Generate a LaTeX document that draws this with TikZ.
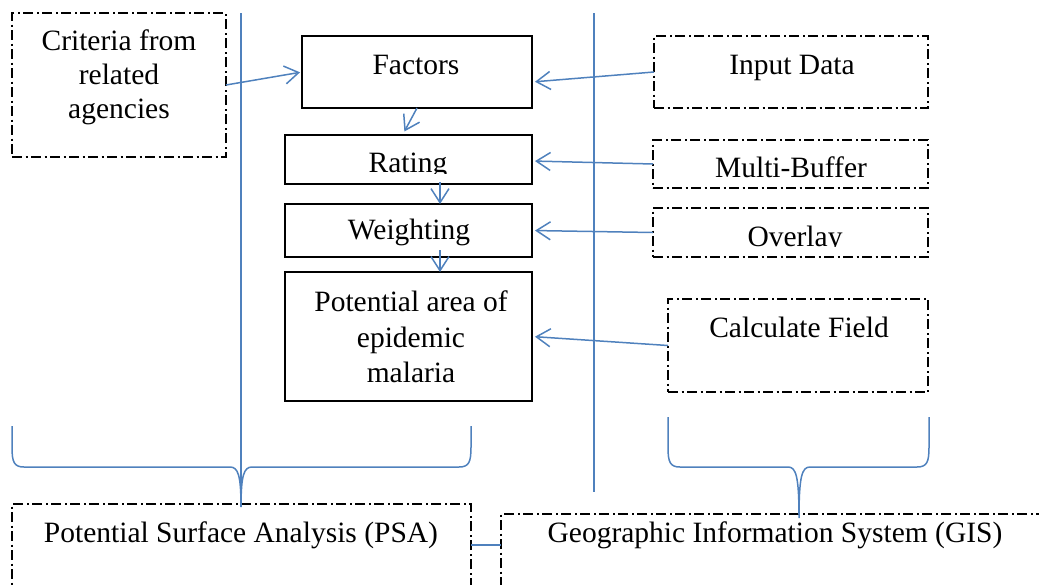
\documentclass[tikz,border=0pt]{standalone}
\usepackage{fontspec}
\setmainfont{Liberation Serif}
\usetikzlibrary{arrows.meta}
\definecolor{linkblue}{RGB}{79,129,189}
\tikzset{
    solidbox/.style={draw=black, line width=1.8pt, inner sep=0pt, outer sep=0pt},
    dashbox/.style={draw=black, line width=1.8pt, inner sep=0pt, outer sep=0pt,
        dash pattern=on 10pt off 3.5pt on 2pt off 3.5pt},
    link/.style={draw=linkblue, line width=1.5pt},
    flow/.style={link, -{Straight Barb[length=14pt,width=18pt]}},
    txt/.style={font=\fontsize{29.5}{34}\selectfont, align=center, inner sep=0pt},
}

\begin{document}
\begin{tikzpicture}[x=1pt, y=-1pt]
\useasboundingbox (0,0) rectangle (1039,584);
\clip (0,0) rectangle (1039,584);

% boxes
\node[dashbox, minimum width=214, minimum height=144] (crit) at (119,85) {};
\node[solidbox, minimum width=230, minimum height=72] (fac) at (417,72) {};
\node[solidbox, minimum width=247, minimum height=49] (rat) at (408.5,159.5) {};
\node[solidbox, minimum width=247, minimum height=53] (wgt) at (408.5,230.5) {};
\node[solidbox, minimum width=247, minimum height=129] (pot) at (408.5,336.5) {};
\node[dashbox, minimum width=274, minimum height=72] (inp) at (791,72) {};
\node[dashbox, minimum width=275, minimum height=48] (mb) at (790.5,164) {};
\node[dashbox, minimum width=275, minimum height=49] (ovl) at (790.5,232.5) {};
\node[dashbox, minimum width=260, minimum height=93] (calc) at (798,345.5) {};
\node[dashbox, minimum width=459, minimum height=100] (psa) at (241.5,554) {};
\node[dashbox, minimum width=560, minimum height=90] (gis) at (781,559) {};

% texts
\node[txt, anchor=north] (crittxt) at (119,29.6) {Criteria from\\related\\agencies};
\node[txt, anchor=base] (factxt) at (416,74) {Factors};
\node[txt, anchor=base] (inptxt) at (792,74) {Input Data};
\begin{scope}
\clip ([yshift=11pt]rat.south west) rectangle (rat.north east);
\node[txt, anchor=base] (rattxt) at (408,172) {Rating};
\end{scope}
\node[txt, anchor=base] (wgttxt) at (409,239) {Weighting};
\node[txt, anchor=north, font=\fontsize{29.5}{35.5}\selectfont] (pottxt) at (411,290.6) {Potential area of\\epidemic\\malaria};
\begin{scope}
\clip ([yshift=11pt]mb.south west) rectangle (mb.north east);
\node[txt, anchor=base] (mbtxt) at (791,177) {Multi-Buffer};
\end{scope}
\begin{scope}
\clip ([yshift=11pt]ovl.south west) rectangle (ovl.north east);
\node[txt, anchor=base] (ovltxt) at (795,246) {Overlay};
\end{scope}
\node[txt, anchor=base] (calctxt) at (799,337) {Calculate Field};
\node[txt, anchor=base] (psatxt) at (241,542) {Potential Surface Analysis (PSA)};
\node[txt, anchor=base] (gistxt) at (775,542) {Geographic Information System (GIS)};

% separators and braces
\coordinate (psatip) at (241,507);
\coordinate (gistip) at (799,518);
\coordinate (joinlvl) at (0,545);
\draw[link] (241,13) -- (psatip);
\draw[link] (594,13) -- (594,492);
\draw[link] (12,426) -- (12,447) .. controls (12,462) and (14,467) .. (24,467) -- (230,467)
    .. controls (238,467) and (241,475) .. (psatip)
    .. controls (241,475) and (244,467) .. (252,467) -- (459,467)
    .. controls (469,467) and (471,462) .. (471,447) -- (471,426);
\draw[link] (668,417) -- (668,447) .. controls (668,462) and (670,467) .. (680,467) -- (788,467)
    .. controls (796,467) and (799,476) .. (gistip)
    .. controls (799,476) and (802,467) .. (810,467) -- (917,467)
    .. controls (927,467) and (929,462) .. (929,447) -- (929,417);
\draw[link] (psa.east |- joinlvl) -- (gis.west |- joinlvl);

% arrows
\draw[flow, shorten >=2pt] (crit.east) -- (fac.west);
\draw[flow, shorten >=3pt] (inp.west) -- ([yshift=-10pt]fac.east);
\draw[flow, shorten >=3pt] (mb.west) -- ([yshift=-1.5pt]rat.east);
\draw[flow, shorten >=3pt] (ovl.west) -- (wgt.east);
\draw[flow, shorten >=3pt] (calc.west) -- (pot.east);
\draw[flow, shorten >=4pt] (fac.south) -- ([xshift=-6pt]rat.north);
\draw[flow] ([xshift=31.5pt,yshift=2pt]rat.south) -- ([xshift=31.5pt]wgt.north);
\draw[flow] ([xshift=31.5pt,yshift=7pt]wgt.south) -- ([xshift=31.5pt]pot.north);
\end{tikzpicture}
\end{document}
